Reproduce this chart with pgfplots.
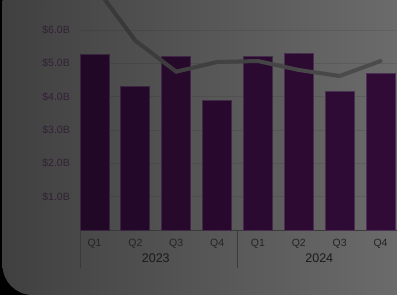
\documentclass[border=0pt]{standalone}
\usepackage{pgfplots}
\pgfplotsset{compat=1.18}
\usepackage{fontspec}
\setmainfont{Liberation Sans}
\definecolor{bgL}{RGB}{64,64,64}
\definecolor{bgR}{RGB}{107,107,107}
\definecolor{barL}{RGB}{34,8,39}
\definecolor{barR}{RGB}{48,11,54}
\definecolor{bdL}{RGB}{56,36,62}
\definecolor{bdR}{RGB}{76,50,82}
\definecolor{ylab}{RGB}{50,32,54}
\definecolor{qlab}{RGB}{36,36,36}
\definecolor{glab}{RGB}{26,26,26}
\definecolor{sepc}{RGB}{58,58,58}
\begin{document}
\begin{tikzpicture}
\useasboundingbox (0pt,0pt) rectangle (397pt,295pt);
\clip (0pt,0pt) rectangle (397pt,295pt);
\fill[black] (0pt,0pt) rectangle (397pt,295pt);
\shade[left color=bgL, right color=bgR] (2.5pt,295pt) -- (2.5pt,30pt) arc[start angle=180,end angle=270,radius=30pt] -- (397pt,0pt) -- (397pt,295pt) -- cycle;
\begin{axis}[
  at={(80pt,65pt)}, anchor=south west,
  scale only axis, width=320pt, height=250pt,
  xmin=-0.355, xmax=7.476, ymin=0, ymax=7.5,
  axis x line*=bottom, axis y line*=left,
  y axis line style={draw=none},
  x axis line style={draw=sepc, line width=1pt},
  major tick length=0pt, tick style={draw=none},
  ytick={1,2,3,4,5,6,7},
  /pgf/number format/assume math mode=true,
  yticklabel={\$\pgfmathprintnumber[fixed,fixed zerofill,precision=1]{\tick}B},
  yticklabel style={anchor=east, inner sep=0pt, xshift=-10pt, font=\fontsize{10.5}{12}\selectfont, text=ylab},
  xtick={0,1,2,3,4,5,6,7},
  xticklabels={Q1,Q2,Q3,Q4,Q1,Q2,Q3,Q4},
  xticklabel style={anchor=base, inner sep=0pt, yshift=-16.5pt, font=\fontsize{10.5}{12}\selectfont, text=qlab},
  ymajorgrids, grid style={black, opacity=0.09, line width=1pt},
  colormap={linegrad}{rgb255=(54,54,54) rgb255=(78,78,78)},
  point meta min=-0.355, point meta max=7.476,
  clip=false,
]
\addplot[ybar, bar width=29pt, bar shift=0pt, fill=barR!0!barL, draw=bdR!0!bdL, line width=0.8pt] coordinates {(0,5.28)};
\addplot[ybar, bar width=29pt, bar shift=0pt, fill=barR!14!barL, draw=bdR!14!bdL, line width=0.8pt] coordinates {(1,4.32)};
\addplot[ybar, bar width=29pt, bar shift=0pt, fill=barR!29!barL, draw=bdR!29!bdL, line width=0.8pt] coordinates {(2,5.22)};
\addplot[ybar, bar width=29pt, bar shift=0pt, fill=barR!43!barL, draw=bdR!43!bdL, line width=0.8pt] coordinates {(3,3.90)};
\addplot[ybar, bar width=29pt, bar shift=0pt, fill=barR!57!barL, draw=bdR!57!bdL, line width=0.8pt] coordinates {(4,5.22)};
\addplot[ybar, bar width=29pt, bar shift=0pt, fill=barR!71!barL, draw=bdR!71!bdL, line width=0.8pt] coordinates {(5,5.30)};
\addplot[ybar, bar width=29pt, bar shift=0pt, fill=barR!86!barL, draw=bdR!86!bdL, line width=0.8pt] coordinates {(6,4.15)};
\addplot[ybar, bar width=29pt, bar shift=0pt, fill=barR!100!barL, draw=bdR!100!bdL, line width=0.8pt] coordinates {(7,4.69)};
\addplot[mesh, point meta=x, line width=4pt, line cap=round, line join=round] coordinates {
 (0,7.33) (1,5.68) (2,4.75) (3,5.04) (4,5.07) (5,4.80) (6,4.62) (7,5.07)};
\draw[sepc, line width=1pt] (axis cs:-0.355,0) -- ([yshift=-38pt]axis cs:-0.355,0);
\draw[sepc, line width=1pt] (axis cs:3.5,0) -- ([yshift=-38pt]axis cs:3.5,0);
\node[anchor=base, inner sep=0pt, font=\fontsize{12.5}{14}\selectfont, text=glab] at ([yshift=-32pt]axis cs:1.5,0) {2023};
\node[anchor=base, inner sep=0pt, font=\fontsize{12.5}{14}\selectfont, text=glab] at ([yshift=-32pt]axis cs:5.5,0) {2024};
\end{axis}
\end{tikzpicture}
\end{document}
